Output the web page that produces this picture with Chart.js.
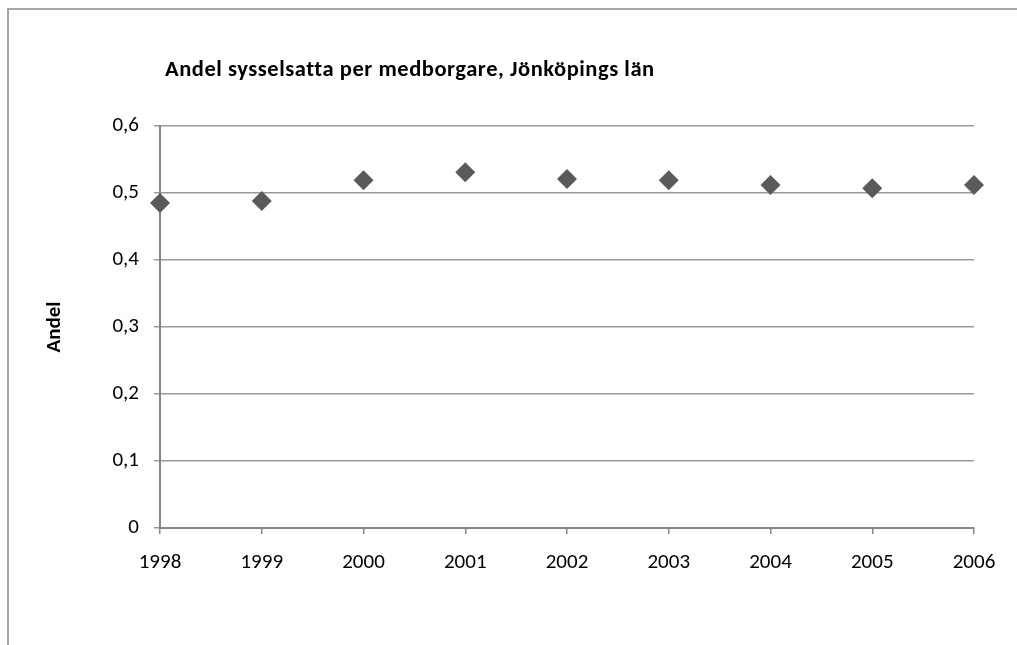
<!DOCTYPE html>
<html>
<head>
<meta charset="utf-8">
<title>Andel sysselsatta per medborgare, Jönköpings län</title>
<script src="https://cdn.jsdelivr.net/npm/chart.js@4/dist/chart.umd.min.js"></script>
<style>
  html, body { margin: 0; padding: 0; background: #ffffff; overflow: hidden; }
  #wrap { position: relative; width: 1017px; height: 645px; }
  #chart { position: absolute; left: 0; top: 0; }
  /* outer chart frame (top and left edges visible) */
  #frame {
    position: absolute; left: 7px; top: 8px; width: 1100px; height: 700px;
    border-top: 2px solid #a6a6a6; border-left: 2px solid #a6a6a6;
    pointer-events: none;
  }
</style>
</head>
<body>
<div id="wrap">
  <canvas id="chart" width="1017" height="645"></canvas>
  <div id="frame"></div>
</div>
<script>
// Employed persons per inhabitant, Jönköping county
const years = [1998, 1999, 2000, 2001, 2002, 2003, 2004, 2005, 2006];
const andel = [0.485, 0.488, 0.519, 0.531, 0.521, 0.519, 0.512, 0.507, 0.512];
const yTicks = [0, 0.1, 0.2, 0.3, 0.4, 0.5, 0.6];
const chartTitle = 'Andel sysselsatta per medborgare, Jönköpings län';
const yTitle = 'Andel';

const FONT = "'Carlito', 'Liberation Sans', Arial, sans-serif";

const points = years.map((x, i) => ({ x: x, y: andel[i] }));

// draws the chart heading above the plot
const headingPlugin = {
  id: 'heading',
  afterDraw(chart) {
    const ctx = chart.ctx;
    ctx.save();
    ctx.font = "bold 22.5px " + FONT;
    if ('letterSpacing' in ctx) ctx.letterSpacing = '0.55px';
    ctx.fillStyle = '#000000';
    ctx.textAlign = 'left';
    ctx.textBaseline = 'alphabetic';
    ctx.fillText(chartTitle, 165, 76);
    ctx.restore();
  }
};

new Chart(document.getElementById('chart'), {
  type: 'scatter',
  data: {
    datasets: [{
      data: points,
      clip: false,
      pointStyle: 'rectRot',
      pointRadius: 10,
      pointHoverRadius: 10,
      backgroundColor: '#5a5a5a',
      borderColor: '#5a5a5a',
      borderWidth: 0
    }]
  },
  plugins: [headingPlugin],
  options: {
    responsive: false,
    animation: false,
    layout: { padding: { left: 0, top: 126, right: 43, bottom: 57 } },
    plugins: {
      legend: { display: false },
      title: { display: false },
      tooltip: { enabled: false }
    },
    scales: {
      x: {
        type: 'linear',
        min: years[0],
        max: years[years.length - 1],
        afterFit(scale) { scale.height = 60; },
        afterBuildTicks(scale) { scale.ticks = years.map(v => ({ value: v })); },
        grid: {
          drawOnChartArea: false,
          drawTicks: true,
          tickLength: 6,
          color: '#868686',
          lineWidth: 1.5
        },
        border: { display: true, color: '#868686', width: 2 },
        ticks: {
          padding: 16,
          color: '#000000',
          font: { family: FONT, size: 21 },
          callback: v => String(v)
        }
      },
      y: {
        min: 0,
        max: 0.6,
        afterFit(scale) { scale.width = 160; },
        afterBuildTicks(scale) { scale.ticks = yTicks.map(v => ({ value: v })); },
        grid: {
          drawTicks: true,
          tickLength: 6,
          color: '#9a9a9a',
          lineWidth: 1.5
        },
        border: { display: true, color: '#868686', width: 2 },
        ticks: {
          padding: 15,
          color: '#000000',
          font: { family: FONT, size: 21 },
          callback: v => String(Math.round(v * 10) / 10).replace('.', ',')
        },
        title: {
          display: true,
          text: yTitle,
          color: '#000000',
          font: { family: FONT, size: 21, weight: 'bold' },
          padding: { top: 42, bottom: 0 }
        }
      }
    }
  }
});
</script>
</body>
</html>
